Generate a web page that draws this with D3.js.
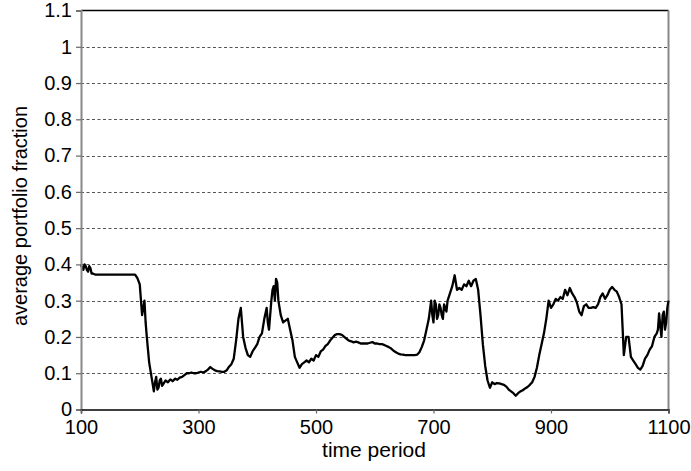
<!DOCTYPE html>
<html>
<head>
<meta charset="utf-8">
<script src="https://cdn.jsdelivr.net/npm/d3@7"></script>
<style>
  body { margin: 0; background: #fff; }
  svg { display: block; }
  text { font-family: "Liberation Sans", Arial, sans-serif; fill: #000; }
</style>
</head>
<body>
<div id="chart"></div>
<script>
var width = 691,
    height = 471;

// tick values and labels
const xTicks = [100, 300, 500, 700, 900, 1100];
const yTicks = [0, 0.1, 0.2, 0.3, 0.4, 0.5, 0.6, 0.7, 0.8, 0.9, 1, 1.1];
const yTickLabels = ["0", "0.1", "0.2", "0.3", "0.4", "0.5", "0.6", "0.7", "0.8", "0.9", "1", "1.1"];

// [time period, average portfolio fraction]
const samples = [
  [100,0.400],[102,0.390],[104,0.385],[106,0.400],[108,0.395],[110,0.385],[112,0.380],[114,0.395],[116,0.390],[118,0.375],
  [120,0.375],[124,0.372],[128,0.372],[132,0.372],[136,0.372],[140,0.372],[144,0.372],[148,0.372],[152,0.372],[156,0.372],
  [160,0.372],[164,0.372],[168,0.372],[172,0.372],[176,0.372],[180,0.372],[184,0.372],[188,0.372],[192,0.372],[196,0.362],
  [200,0.345],[204,0.260],[208,0.300],[210,0.240],[212,0.200],[216,0.130],[220,0.090],[222,0.070],[224,0.050],[226,0.075],
  [228,0.090],[230,0.055],[232,0.060],[234,0.080],[236,0.085],[238,0.065],[240,0.070],[244,0.080],[248,0.075],[252,0.083],
  [256,0.078],[260,0.085],[264,0.082],[268,0.088],[272,0.090],[276,0.095],[280,0.100],[284,0.100],[288,0.102],[292,0.100],
  [296,0.100],[300,0.102],[304,0.104],[308,0.102],[312,0.105],[316,0.110],[320,0.117],[324,0.112],[328,0.108],[332,0.106],
  [336,0.105],[340,0.104],[344,0.104],[348,0.108],[352,0.118],[356,0.125],[360,0.140],[364,0.190],[368,0.250],[372,0.280],
  [376,0.200],[380,0.170],[384,0.150],[388,0.145],[392,0.160],[396,0.170],[400,0.180],[404,0.200],[408,0.210],[412,0.250],
  [416,0.280],[418,0.240],[420,0.220],[424,0.300],[426,0.330],[428,0.340],[430,0.300],[432,0.360],[434,0.350],[436,0.300],
  [440,0.260],[444,0.240],[448,0.245],[452,0.250],[456,0.220],[460,0.190],[464,0.145],[468,0.130],[472,0.115],[476,0.125],
  [480,0.130],[484,0.135],[488,0.130],[492,0.140],[496,0.135],[500,0.150],[504,0.145],[508,0.160],[512,0.165],[516,0.175],
  [520,0.180],[524,0.190],[528,0.198],[532,0.205],[536,0.208],[540,0.208],[544,0.206],[548,0.200],[552,0.195],[556,0.190],
  [560,0.188],[564,0.185],[568,0.187],[572,0.185],[576,0.182],[580,0.182],[584,0.182],[588,0.182],[592,0.184],[596,0.186],
  [600,0.182],[604,0.182],[608,0.180],[612,0.180],[616,0.178],[620,0.175],[624,0.172],[628,0.168],[632,0.162],[636,0.158],
  [640,0.154],[644,0.152],[648,0.151],[652,0.150],[656,0.150],[660,0.150],[664,0.150],[668,0.150],[672,0.151],[676,0.158],
  [680,0.172],[684,0.190],[688,0.220],[692,0.250],[696,0.300],[698,0.260],[700,0.240],[702,0.300],[704,0.290],[706,0.250],
  [708,0.260],[710,0.290],[712,0.280],[714,0.260],[716,0.250],[718,0.290],[720,0.280],[722,0.270],[724,0.300],[728,0.320],
  [732,0.340],[736,0.370],[740,0.330],[744,0.335],[748,0.330],[752,0.345],[756,0.340],[760,0.355],[764,0.340],[768,0.355],
  [772,0.360],[776,0.330],[780,0.260],[784,0.180],[788,0.120],[792,0.080],[796,0.060],[800,0.075],[804,0.070],[808,0.073],
  [812,0.072],[816,0.070],[820,0.068],[824,0.063],[828,0.055],[832,0.050],[836,0.045],[840,0.038],[844,0.045],[848,0.050],
  [852,0.053],[856,0.058],[860,0.062],[864,0.068],[868,0.075],[872,0.090],[876,0.115],[880,0.150],[884,0.180],[888,0.210],
  [892,0.250],[896,0.300],[900,0.280],[904,0.290],[908,0.305],[912,0.300],[916,0.310],[920,0.305],[924,0.330],[928,0.315],
  [932,0.335],[936,0.320],[940,0.310],[944,0.295],[948,0.270],[952,0.260],[956,0.285],[960,0.290],[964,0.280],[968,0.280],
  [972,0.282],[976,0.280],[980,0.290],[984,0.310],[988,0.320],[992,0.305],[996,0.315],[1000,0.330],[1004,0.338],[1008,0.330],
  [1012,0.325],[1016,0.310],[1020,0.290],[1024,0.150],[1028,0.200],[1032,0.200],[1036,0.145],[1040,0.135],[1044,0.125],[1048,0.115],
  [1052,0.110],[1056,0.120],[1060,0.140],[1064,0.150],[1068,0.165],[1072,0.175],[1076,0.200],[1080,0.210],[1082,0.220],[1084,0.265],
  [1086,0.230],[1088,0.200],[1090,0.260],[1092,0.270],[1094,0.220],[1096,0.240],[1098,0.280],[1100,0.300]
];

var x = d3.scaleLinear()
    .domain([100, 1100])
    .range([81, 668.5]);

var y = d3.scaleLinear()
    .domain([0, 1.1])
    .range([409.5, 10.5]);

var svg = d3.select("#chart")
    .append("svg")
    .attr("width", width)
    .attr("height", height);

// dashed grid lines
svg.append("g")
    .selectAll("line")
    .data(yTicks.filter(d => d > 0 && d < 1.1))
    .join("line")
    .attr("x1", x(100))
    .attr("x2", x(1100))
    .attr("y1", d => Math.round(y(d)) + 0.5)
    .attr("y2", d => Math.round(y(d)) + 0.5)
    .attr("stroke", "#555")
    .attr("stroke-width", 1.2)
    .attr("stroke-dasharray", "3,2.5");

// top border and right border
svg.append("line")
    .attr("x1", x(100)).attr("x2", x(1100))
    .attr("y1", y(1.1)).attr("y2", y(1.1))
    .attr("stroke", "#000").attr("stroke-width", 1.5);

svg.append("line")
    .attr("x1", x(1100)).attr("x2", x(1100))
    .attr("y1", y(1.1)).attr("y2", y(0))
    .attr("stroke", "#888").attr("stroke-width", 2);

// the series
var line = d3.line()
    .x(d => x(d[0]))
    .y(d => y(d[1]));

svg.append("path")
    .datum(samples)
    .attr("fill", "none")
    .attr("stroke", "#000")
    .attr("stroke-width", 2.3)
    .attr("stroke-linejoin", "round")
    .attr("d", line);

// y axis
var yAxis = svg.append("g")
    .attr("transform", "translate(" + x(100) + ",0)")
    .call(d3.axisLeft(y)
        .tickValues(yTicks)
        .tickSize(5)
        .tickPadding(4)
        .tickFormat((d, i) => yTickLabels[i]));

yAxis.select(".domain").attr("stroke", "#888").attr("stroke-width", 2);
yAxis.selectAll(".tick line").attr("stroke", "#666").attr("stroke-width", 1.2);
yAxis.selectAll(".tick text")
    .attr("font-size", "20px")
    .attr("font-family", "Liberation Sans, Arial, sans-serif");

// x axis
var xAxis = svg.append("g")
    .attr("transform", "translate(0," + y(0) + ")")
    .call(d3.axisBottom(x)
        .tickValues(xTicks)
        .tickSize(4)
        .tickPadding(6)
        .tickFormat(d3.format("d")));

xAxis.select(".domain").attr("stroke", "#000").attr("stroke-width", 1.5);
xAxis.selectAll(".tick line").attr("stroke", "#666").attr("stroke-width", 1.2);
xAxis.selectAll(".tick text")
    .attr("font-size", "20px")
    .attr("font-family", "Liberation Sans, Arial, sans-serif");

// axis titles
svg.append("text")
    .attr("x", 374)
    .attr("y", 457)
    .attr("text-anchor", "middle")
    .attr("font-size", "21px")
    .text("time period");

svg.append("text")
    .attr("transform", "translate(27,216) rotate(-90)")
    .attr("text-anchor", "middle")
    .attr("font-size", "20px")
    .text("average portfolio fraction");
</script>
</body>
</html>
